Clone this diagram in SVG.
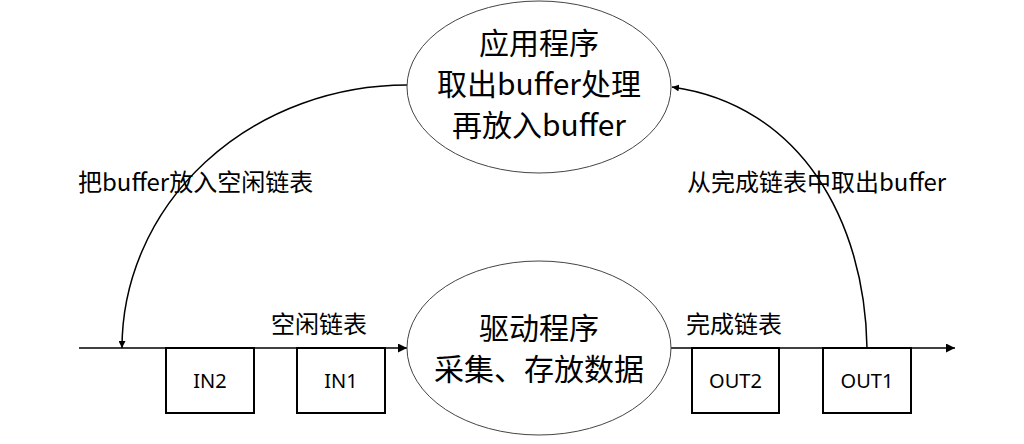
<svg xmlns="http://www.w3.org/2000/svg" width="1024" height="444" viewBox="0 0 1024 444">
<style>
.cjk{font-family:"Noto Sans CJK SC","Noto Sans",sans-serif;fill:#000}
.big{font-size:30px;text-anchor:middle}
.lbl{font-size:24px}
.box{fill:#fff;stroke:#000;stroke-width:2}
.boxt{font-family:"Noto Sans",sans-serif;font-size:20px;text-anchor:middle;fill:#000}
.ell{fill:#fff;stroke:#444;stroke-width:1}
.ln{fill:none;stroke:#000;stroke-width:1.5}
</style>
<defs>
<marker id="arr" viewBox="0 0 10 10" refX="10" refY="5" markerWidth="7" markerHeight="7" orient="auto" markerUnits="userSpaceOnUse">
<path d="M0,0 L10,5 L0,10 z" fill="#000"/>
</marker>
<marker id="arrb" viewBox="0 0 10 10" refX="10" refY="5" markerWidth="9" markerHeight="9" orient="auto" markerUnits="userSpaceOnUse">
<path d="M0,0 L10,5 L0,10 z" fill="#000"/>
</marker>
</defs>
<rect width="1024" height="444" fill="#fff"/>
<g id="connectors">
<line class="ln" x1="79" y1="348" x2="407" y2="348" marker-end="url(#arrb)"/>
<line class="ln" x1="670" y1="348" x2="955" y2="348" marker-end="url(#arrb)"/>
<path class="ln" d="M407,85 A285,263 0 0 0 122,348" marker-end="url(#arr)"/>
<path class="ln" d="M867,348 C865,220 800,105 672,87" marker-end="url(#arr)"/>
</g>
<g id="app">
<ellipse class="ell" cx="539" cy="87" rx="132" ry="86"/>
<text class="cjk big" x="539" y="54">应用程序</text>
<text class="cjk big" x="539" y="95">取出buffer处理</text>
<text class="cjk big" x="539" y="136">再放入buffer</text>
</g>
<g id="driver">
<ellipse class="ell" cx="539" cy="348" rx="132" ry="87"/>
<text class="cjk big" x="539" y="339">驱动程序</text>
<text class="cjk big" x="539" y="380">采集、存放数据</text>
</g>
<g id="in2">
<rect class="box" x="166" y="348" width="88" height="65"/>
<text class="boxt" x="210" y="388">IN2</text>
</g>
<g id="in1">
<rect class="box" x="297" y="348" width="88" height="65"/>
<text class="boxt" x="341" y="388">IN1</text>
</g>
<g id="out2">
<rect class="box" x="692" y="348" width="87" height="65"/>
<text class="boxt" x="735.5" y="388">OUT2</text>
</g>
<g id="out1">
<rect class="box" x="823" y="348" width="88" height="65"/>
<text class="boxt" x="867" y="388">OUT1</text>
</g>
<g id="labels">
<text class="cjk lbl" x="78" y="191">把buffer放入空闲链表</text>
<text class="cjk lbl" x="687" y="191">从完成链表中取出buffer</text>
<text class="cjk lbl" x="271" y="333">空闲链表</text>
<text class="cjk lbl" x="686" y="333">完成链表</text>
</g>
</svg>
